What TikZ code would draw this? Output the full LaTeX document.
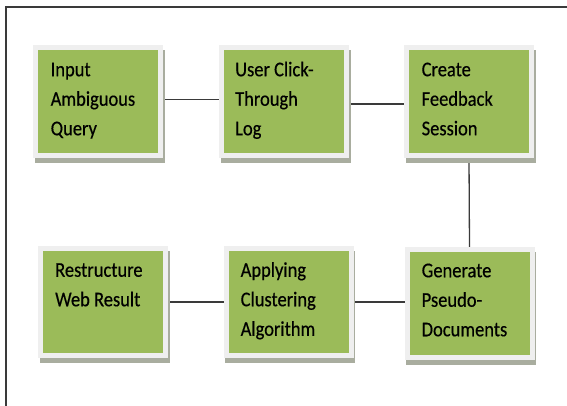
\documentclass[tikz,border=0pt]{standalone}
\usepackage{fontspec}
\setmainfont{Carlito}[FakeStretch=0.88, FakeBold=0.4]
\usetikzlibrary{shadows,backgrounds}
\definecolor{boxgreen}{HTML}{9BBB59}
\definecolor{framegray}{HTML}{EFEFEF}
\definecolor{shadowgray}{HTML}{A9AD9F}
\definecolor{linegray}{HTML}{3A3A3A}
\newcommand{\myboxfont}{\fontsize{21}{29.5}\selectfont}
\begin{document}
\begin{tikzpicture}[x=1pt,y=-1pt,
  box/.style={draw=framegray, line width=5pt, fill=boxgreen,
    minimum width=125pt, minimum height=107.5pt, inner sep=0pt,
    general shadow={draw=shadowgray, fill=shadowgray, line width=5pt,
      shadow xshift=1.5pt, shadow yshift=-5pt}},
  boxtext/.style={anchor=base west, text width=108pt, align=flush left,
    inner sep=0pt, text=black, font=\myboxfont},
  conn/.style={draw=linegray, line width=1.3pt},
  outline/.style={draw=linegray, line width=1.5pt}]
\useasboundingbox (0,0) rectangle (567,406);
\draw[outline] (6,406) -- (6,7) -- (567,7);
\node[box] (b1) at (98,101.5) {};
\node[box] (b2) at (284,101.5) {};
\node[box] (b3) at (469,101.5) {};
\node[box] (b4) at (103,302) {};
\node[box] (b5) at (288.5,302) {};
\node[box] (b6) at (469.5,303.5) {};
\path (b1.north west) ++(17.5,31) node[boxtext] (t1) {Input\\Ambiguous\\Query};
\path (b2.north west) ++(16,31) node[boxtext] (t2) {User Click-\\Through\\Log};
\path (b3.north west) ++(17.5,31) node[boxtext] (t3) {Create\\Feedback\\Session};
\path (b4.north west) ++(17,31) node[boxtext] (t4) {Restructure\\Web Result};
\path (b5.north west) ++(17,31) node[boxtext] (t5) {Applying\\Clustering\\Algorithm};
\path (b6.north west) ++(17,30) node[boxtext] (t6) {Generate\\Pseudo-\\Documents};
\begin{scope}[on background layer]
\draw[conn] ([yshift=2pt]b1.east) -- ([yshift=2pt]b2.west);
\draw[conn] ([yshift=-2.5pt]b2.east) -- ([yshift=-2.5pt]b3.west);
\draw[conn] (b3.south) -- (b6.north);
\draw[conn] (b4.east) -- (b5.west);
\draw[conn] (b5.east) -- (b6.west |- b5.east);
\end{scope}
\end{tikzpicture}
\end{document}
